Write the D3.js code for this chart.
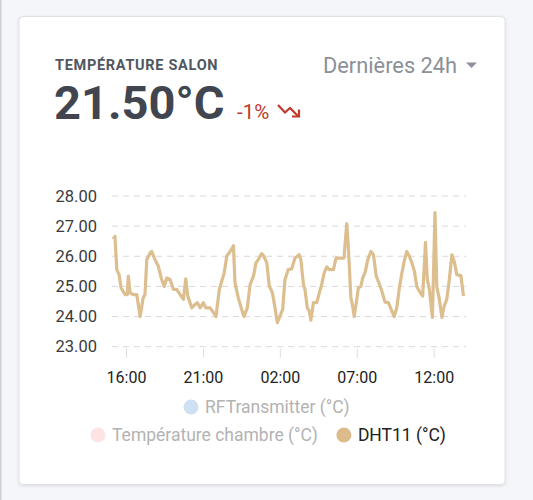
<!DOCTYPE html>
<html>
<head>
<meta charset="utf-8">
<script src="https://cdn.jsdelivr.net/npm/d3@7"></script>
<style>
  html, body { margin: 0; padding: 0; background: #f5f6fa; }
  body { width: 533px; height: 500px; overflow: hidden; font-family: Roboto, "Noto Sans", sans-serif; }
  svg { display: block; }
</style>
</head>
<body>
<svg id="chart" width="533" height="500"></svg>
<script>
// data
const times = ["15:10","15:17","15:24","15:33","15:41","15:56","16:05","16:09","16:16","16:28",
  "16:42","16:55","17:07","17:14","17:21","17:34","17:40","17:53","18:06","18:19",
  "18:29","18:39","18:52","19:05","19:18","19:31","19:44","19:53","20:01","20:16",
  "20:29","20:38","20:49","21:02","21:11","21:28","21:41","21:51","22:04","22:17",
  "22:23","22:33","22:46","22:59","23:05","23:18","23:31","23:40","23:53","00:04",
  "00:17","00:27","00:36","00:49","00:58","01:09","01:19","01:31","01:41","01:50",
  "02:01","02:11","02:20","02:33","02:46","02:59","03:15","03:22","03:32","03:38",
  "03:47","03:55","04:01","04:11","04:24","04:34","04:43","04:53","05:03","05:13",
  "05:29","05:39","06:10","06:21","06:27","06:37","06:43","06:50","07:00","07:06",
  "07:16","07:23","07:32","07:43","07:55","08:05","08:16","08:24","08:38","08:50",
  "09:03","09:14","09:26","09:36","09:46","09:56","10:05","10:15","10:25","10:35",
  "10:45","10:54","11:04","11:17","11:28","11:35","11:43","11:55","12:05","12:12",
  "12:22","12:32","12:41","12:51","13:01","13:11","13:20","13:30","13:46","13:56"];

const dht11 = [26.57,26.66,25.56,25.39,24.95,24.73,24.73,25.34,24.79,24.73,
  24.73,24.00,24.62,24.73,25.89,26.11,26.16,25.89,25.67,25.23,
  25.00,25.28,25.23,24.90,24.90,24.73,24.57,25.25,24.68,24.29,
  24.40,24.46,24.29,24.46,24.29,24.29,24.13,24.00,24.90,25.28,
  25.45,26.00,26.16,26.35,25.12,24.62,24.24,24.00,24.29,25.06,
  25.34,25.78,25.89,26.09,26.00,25.78,25.00,24.79,24.29,23.80,
  24.02,24.24,25.23,25.56,25.58,25.94,26.05,25.89,25.06,24.90,
  24.29,24.18,23.88,24.46,24.46,24.79,25.06,25.45,25.65,25.56,
  25.56,25.94,25.94,27.08,26.33,24.62,24.40,24.00,24.57,24.95,
  25.00,25.28,25.45,25.89,26.16,26.05,25.34,25.17,24.84,24.48,
  24.46,24.24,24.00,24.29,24.95,25.45,25.83,26.16,26.00,25.78,
  25.50,25.00,24.84,24.68,26.46,25.23,24.90,23.97,27.45,25.00,
  24.57,23.97,24.35,24.57,25.23,26.05,25.83,25.39,25.36,24.68];

const yTicks = [23, 24, 25, 26, 27, 28];
const xTickLabels = ["16:00", "21:00", "02:00", "07:00", "12:00"];

const legendRow1 = [{ name: "RFTransmitter (°C)", color: "#cfe0f3", hidden: true }];
const legendRow2 = [
  { name: "Température chambre (°C)", color: "#fde3e3", hidden: true },
  { name: "DHT11 (°C)", color: "#dcbc8c", hidden: false }
];

// turn "HH:MM" strings into dates, rolling over midnight
function toDates(list) {
  let day = 0, prev = -1;
  return list.map(s => {
    const [h, m] = s.split(":").map(Number);
    const mins = h * 60 + m;
    if (mins < prev) day++;
    prev = mins;
    return new Date(2021, 0, 10 + day, h, m);
  });
}

const dates = toDates(times);
const tickDates = toDates(xTickLabels);
const data = dates.map((d, i) => ({ t: d, v: dht11[i] }));

const svg = d3.select("#chart");

// left border line of the page
svg.append("rect").attr("x", 0).attr("y", 0).attr("width", 1.5).attr("height", 500).attr("fill", "#cfd0d4");

// card
const defs = svg.append("defs");
const f = defs.append("filter").attr("id", "sh").attr("x", "-5%").attr("y", "-5%").attr("width", "110%").attr("height", "110%");
f.append("feDropShadow").attr("dx", 0).attr("dy", 1).attr("stdDeviation", 1.5).attr("flood-color", "#000").attr("flood-opacity", 0.12);

svg.append("rect")
  .attr("x", 19).attr("y", 16.5).attr("width", 486).attr("height", 468)
  .attr("rx", 4)
  .attr("fill", "#fff")
  .attr("stroke", "#dfe1e6")
  .attr("filter", "url(#sh)");

// header
svg.append("text").attr("x", 55).attr("y", 70)
  .attr("font-size", 14.5).attr("font-weight", 700).attr("letter-spacing", 0.7)
  .attr("fill", "#515761").text("TEMPÉRATURE SALON");

svg.append("text").attr("x", 54).attr("y", 118.5)
  .attr("font-size", 47).attr("font-weight", 700)
  .attr("fill", "#40454f").text("21.50°C");

svg.append("text").attr("x", 237).attr("y", 118.5)
  .attr("font-size", 20.5)
  .attr("fill", "#c0392b").text("-1%");

// trending down arrow
const arrow = svg.append("g").attr("stroke", "#c0392b").attr("fill", "none").attr("stroke-width", 2.2)
  .attr("stroke-linejoin", "miter");
arrow.append("path").attr("d", d3.line()([[278, 105], [285, 112.5], [290, 108], [298.5, 116.5]]));
arrow.append("path").attr("d", d3.line()([[292, 116.5], [299, 116.5], [299, 109.5]]));

svg.append("text").attr("x", 323).attr("y", 72.5)
  .attr("font-size", 21.8)
  .attr("fill", "#8b9099").text("Dernières 24h");
svg.append("path")
  .attr("d", d3.line()([[466, 62.5], [477, 62.5], [471.5, 68]]) + "Z")
  .attr("fill", "#8b9099");

// scales
const x = d3.scaleTime()
  .domain([tickDates[0], tickDates[tickDates.length - 1]])
  .range([126, 433.7]);

const y = d3.scaleLinear()
  .domain([23, 28])
  .range([346.7, 196]);

// grid lines
svg.append("g").selectAll("line")
  .data(yTicks)
  .join("line")
  .attr("x1", 112).attr("x2", 466)
  .attr("y1", d => y(d)).attr("y2", d => y(d))
  .attr("stroke", "#d9d9d9")
  .attr("stroke-dasharray", "6,5");

// y axis
const yAxis = svg.append("g")
  .attr("transform", "translate(100,0)")
  .call(d3.axisLeft(y).tickValues(yTicks).tickFormat(d3.format(".2f")).tickSize(0).tickPadding(3));
yAxis.select(".domain").remove();
yAxis.selectAll("text").attr("font-family", "Roboto, sans-serif").attr("font-size", 16.5).attr("fill", "#3a3a3a");

// x axis
const xAxis = svg.append("g")
  .attr("transform", "translate(0," + (y(23) + 2) + ")")
  .call(d3.axisBottom(x).tickValues(tickDates).tickFormat(d3.timeFormat("%H:%M")).tickSize(9).tickPadding(14));
xAxis.select(".domain").remove();
xAxis.selectAll("line").attr("stroke", "#dedede");
xAxis.selectAll("text").attr("font-family", "Roboto, sans-serif").attr("font-size", 16).attr("fill", "#222");

// line
const line = d3.line().x(d => x(d.t)).y(d => y(d.v));
svg.append("path")
  .datum(data)
  .attr("d", line)
  .attr("fill", "none")
  .attr("stroke", "#dcbe8f")
  .attr("stroke-width", 3.2)
  .attr("stroke-linejoin", "round");

// legend
function drawLegend(items, cx0, cy) {
  let cx = cx0;
  items.forEach(it => {
    svg.append("circle").attr("cx", cx).attr("cy", cy).attr("r", 7.5).attr("fill", it.color);
    const t = svg.append("text").attr("x", cx + 14).attr("y", cy + 6)
      .attr("font-size", 17.5)
      .attr("fill", it.hidden ? "#b3b3b3" : "#222")
      .text(it.name);
    cx += 14 + t.node().getComputedTextLength() + 26;
  });
}
drawLegend(legendRow1, 191, 407);
drawLegend(legendRow2, 98, 435);
</script>
</body>
</html>
